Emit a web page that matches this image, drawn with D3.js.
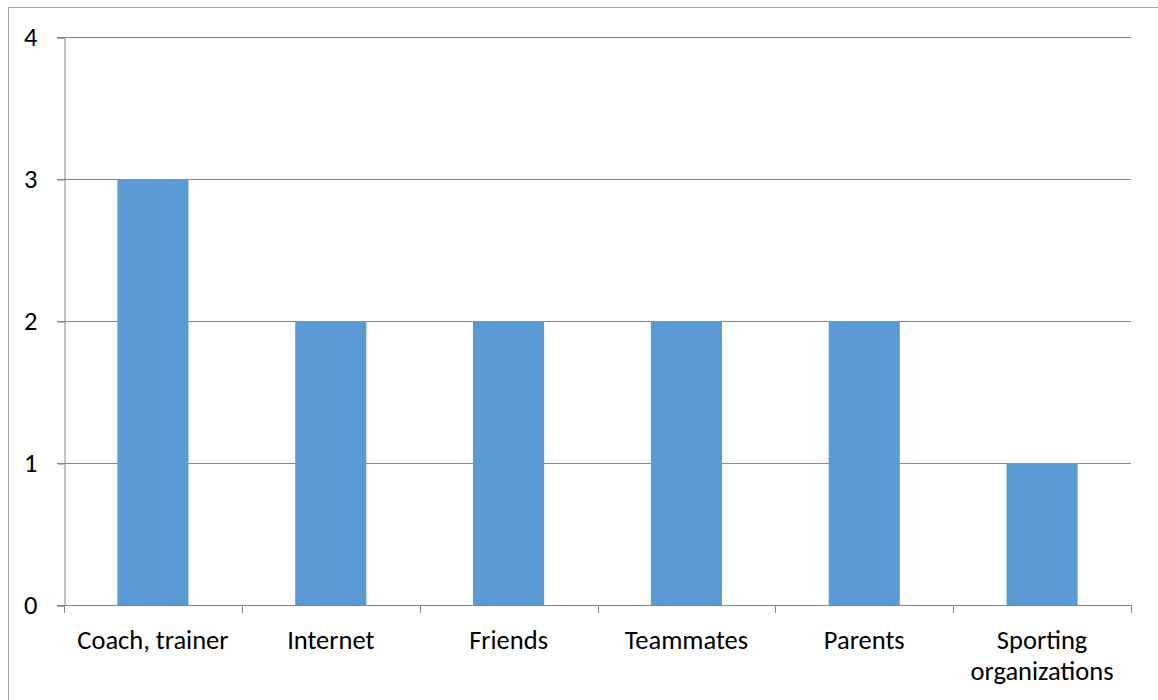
<!DOCTYPE html>
<html>
<head>
<meta charset="utf-8">
<script src="https://cdn.jsdelivr.net/npm/d3@7"></script>
<style>
  html, body { margin: 0; padding: 0; background: #fff; }
  svg { display: block; }
</style>
</head>
<body>
<div id="chart"></div>
<script>
const categories = ['Coach, trainer', 'Internet', 'Friends', 'Teammates', 'Parents', 'Sporting organizations'];
const values     = [3, 2, 2, 2, 2, 1];
const yTicks     = [0, 1, 2, 3, 4];

const W = 1158, H = 700;
const AXIS = '#868686';
const BAR  = '#5B9BD5';
const FONT = "Calibri, Carlito, 'Open Sans', sans-serif";
const FS = 26.5;

const svg = d3.select('#chart').append('svg')
  .attr('width', W).attr('height', H);

// outer chart border (runs off the right/bottom of the picture)
svg.append('rect')
  .attr('x', 8.5).attr('y', 7.5)
  .attr('width', W).attr('height', H)
  .attr('fill', 'none').attr('stroke', '#a6a6a6').attr('stroke-width', 1);

const plot = { left: 64, right: 1131, top: 37, bottom: 605 };

const x = d3.scaleBand().domain(categories).range([plot.left, plot.right]).paddingInner(0).paddingOuter(0);
const y = d3.scaleLinear().domain([0, 4]).range([plot.bottom, plot.top]);

// gridlines
svg.append('g')
  .selectAll('line').data(yTicks.filter(d => d > 0)).join('line')
  .attr('x1', plot.left - 7).attr('x2', plot.right)
  .attr('y1', d => Math.round(y(d)) + 0.5).attr('y2', d => Math.round(y(d)) + 0.5)
  .attr('stroke', AXIS).attr('stroke-width', 1);

// bars: 40% of band width, centred
const barW = x.bandwidth() * 0.4;
svg.append('g')
  .selectAll('rect').data(values).join('rect')
  .attr('x', (d, i) => x(categories[i]) + (x.bandwidth() - barW) / 2)
  .attr('y', d => y(d))
  .attr('width', barW)
  .attr('height', d => y(0) - y(d))
  .attr('fill', BAR);

// y axis
const yAxis = d3.axisLeft(y).tickValues(yTicks).tickSize(7).tickPadding(20).tickFormat(d3.format('d'));
const gy = svg.append('g').attr('transform', `translate(${plot.left + 0.5},0.5)`).call(yAxis);
gy.select('.domain').attr('stroke', AXIS);
gy.selectAll('.tick line').attr('stroke', AXIS);
gy.selectAll('.tick text').attr('font-family', FONT).attr('font-size', FS).attr('fill', '#000');

// x axis baseline + boundary ticks
svg.append('line')
  .attr('x1', plot.left - 7).attr('x2', plot.right)
  .attr('y1', plot.bottom + 0.5).attr('y2', plot.bottom + 0.5)
  .attr('stroke', AXIS);
const bounds = categories.map(c => x(c)).concat([plot.right]);
svg.append('g')
  .selectAll('line').data(bounds).join('line')
  .attr('x1', d => Math.round(d) + 0.5).attr('x2', d => Math.round(d) + 0.5)
  .attr('y1', plot.bottom).attr('y2', plot.bottom + 8)
  .attr('stroke', AXIS);

// category labels (wrapped when too wide)
const lbl = svg.append('g').selectAll('text').data(categories).join('text')
  .attr('x', d => x(d) + x.bandwidth() / 2)
  .attr('y', 649)
  .attr('text-anchor', 'middle')
  .attr('font-family', FONT).attr('font-size', FS).attr('fill', '#000');
lbl.each(function(d) {
  const t = d3.select(this);
  const lines = d === 'Sporting organizations' ? ['Sporting', 'organizations'] : [d];
  lines.forEach((s, i) => {
    t.append('tspan').attr('x', x(d) + x.bandwidth() / 2).attr('dy', i ? 31 : 0).text(s);
  });
});
</script>
</body>
</html>
